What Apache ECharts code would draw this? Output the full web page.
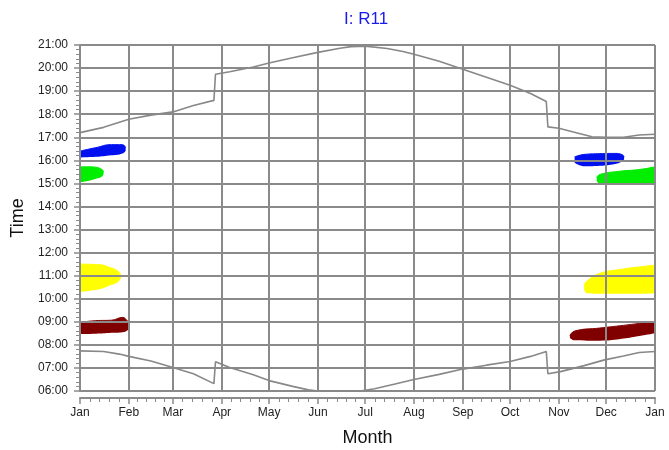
<!DOCTYPE html>
<html>
<head>
<meta charset="utf-8">
<script src="https://cdn.jsdelivr.net/npm/echarts@6/dist/echarts.min.js"></script>
<style>
html,body{margin:0;padding:0;background:#fff;}
#chart{width:669px;height:450px;}
</style>
</head>
<body>
<div id="chart"></div>
<script>
// ---- data (day of year, hour of day) ----
var monthLabels = ['Jan','Feb','Mar','Apr','May','Jun','Jul','Aug','Sep','Oct','Nov','Dec'];
var timeTicks = ['06:00','07:00','08:00','09:00','10:00','11:00','12:00','13:00','14:00','15:00','16:00','17:00','18:00','19:00','20:00','21:00'];

var sunsetDays  = [0,15,31,45,59,72,85,86,95,110,120,135,151,165,172,181,195,205,212,228,243,258,273,286,296,297,304,315,325,334,345,355,365];
var sunsetHours = [17.2,17.43,17.78,17.96,18.1,18.38,18.6,19.73,19.84,20.05,20.22,20.45,20.68,20.86,20.93,20.95,20.85,20.72,20.6,20.3,19.95,19.6,19.25,18.9,18.55,17.45,17.39,17.2,17.02,17.0,17.0,17.1,17.13];

var sunriseDays  = [0,15,25,31,45,59,72,85,86,95,110,120,135,145,151,178,187,200,212,228,243,258,273,286,296,297,305,320,333,345,355,365];
var sunriseHours = [7.74,7.71,7.6,7.5,7.3,7.02,6.75,6.32,7.27,7.02,6.7,6.45,6.2,6.05,6.0,6.0,6.1,6.3,6.5,6.72,6.95,7.12,7.28,7.5,7.71,6.75,6.84,7.1,7.35,7.52,7.67,7.71];

// blobs: day, low hour, high hour
var blueJanDays = [0,10,20,27,29];
var blueJanLow  = [16.12,16.15,16.22,16.3,16.42];
var blueJanHigh = [16.4,16.55,16.68,16.68,16.55];

var greenJanDays = [0,5,10,14,15];
var greenJanLow  = [15.05,15.1,15.2,15.3,15.42];
var greenJanHigh = [15.72,15.72,15.7,15.6,15.5];

var yellowJanDays = [0,13,19,24,26];
var yellowJanLow  = [10.3,10.42,10.58,10.72,10.9];
var yellowJanHigh = [11.5,11.47,11.35,11.2,11.0];

var redJanDays = [0,10,20,27,30,31];
var redJanLow  = [8.47,8.48,8.52,8.55,8.62,8.75];
var redJanHigh = [8.97,9.05,9.07,9.19,9.05,8.95];

var blueDecDays = [314,320.6,330,339.7,344,345.4];
var blueDecLow  = [15.9,15.74,15.76,15.84,15.95,16.05];
var blueDecHigh = [16.15,16.26,16.29,16.3,16.25,16.15];

var greenDecDays = [328,330,343,355,365];
var greenDecLow  = [15.1,15.0,15.0,15.02,15.02];
var greenDecHigh = [15.25,15.39,15.53,15.6,15.72];

var yellowDecDays = [320,322,330,343,355,365];
var yellowDecLow  = [10.4,10.24,10.22,10.22,10.22,10.24];
var yellowDecHigh = [10.6,10.78,11.1,11.27,11.38,11.45];

var redDecDays = [311,314,330,343,355,365];
var redDecLow  = [8.3,8.2,8.18,8.25,8.38,8.5];
var redDecHigh = [8.4,8.6,8.73,8.83,8.93,9.01];

// ---- build ----
var DAY = 86400000;
var T0 = Date.UTC(2023,0,1);
function t(d){ return T0 + d*DAY; }
function pts(days, vals){ return days.map(function(d,i){ return [t(d), vals[i]]; }); }

var GRID = '#8a8a8a';
var FONT = 'Liberation Sans, Arial, sans-serif';
var series = [];
function blob(name, days, low, high, color){
  series.push({
    type:'line', name:name+'_lo', stack:name, data:pts(days, low), smooth:true,
    symbol:'none', lineStyle:{opacity:0}, z:-1, silent:true
  });
  series.push({
    type:'line', name:name, stack:name, data:days.map(function(d,i){ return [t(d), high[i]-low[i]]; }),
    smooth:true, symbol:'none', lineStyle:{width:1,color:color}, areaStyle:{color:color,opacity:1}, z:-1, silent:true
  });
}
blob('blueJan', blueJanDays, blueJanLow, blueJanHigh, '#0010ee');
blob('greenJan', greenJanDays, greenJanLow, greenJanHigh, '#00ee00');
blob('yellowJan', yellowJanDays, yellowJanLow, yellowJanHigh, '#ffff00');
blob('redJan', redJanDays, redJanLow, redJanHigh, '#800000');
blob('blueDec', blueDecDays, blueDecLow, blueDecHigh, '#0010ee');
blob('greenDec', greenDecDays, greenDecLow, greenDecHigh, '#00ee00');
blob('yellowDec', yellowDecDays, yellowDecLow, yellowDecHigh, '#ffff00');
blob('redDec', redDecDays, redDecLow, redDecHigh, '#800000');

series.push({type:'line', name:'sunset', data:pts(sunsetDays, sunsetHours), symbol:'none',
  lineStyle:{color:'#888', width:1.6}, z:3});
series.push({type:'line', name:'sunrise', data:pts(sunriseDays, sunriseHours), symbol:'none',
  lineStyle:{color:'#888', width:1.6}, z:3});

var chart = echarts.init(document.getElementById('chart'), null, {renderer:'canvas'});
chart.setOption({
  useUTC: true,
  animation: false,
  backgroundColor: '#fff',
  title: {text:'I: R11', left:339, top:6, textStyle:{color:'#1a1aee', fontSize:17, fontWeight:'normal', fontFamily:FONT}},
  grid: {left:80, right:14, top:45, bottom:59, containLabel:false, outerBoundsMode:'none'},
  xAxis: {
    type:'time', min:T0, max:t(365), offset:7,
    minInterval:28*DAY, maxInterval:31*DAY,
    axisLine:{show:true, lineStyle:{color:GRID, width:2}},
    axisTick:{show:true, length:6, lineStyle:{color:GRID, width:1.5}},
    minorTick:{show:true, splitNumber:5, length:4, lineStyle:{color:GRID, width:1}},
    splitLine:{show:true, lineStyle:{color:GRID, width:2}},
    axisLabel:{formatter:function(v){ return monthLabels[new Date(v).getUTCMonth()]; },
      color:'#222', fontSize:12, margin:9, showMinLabel:true, showMaxLabel:true, hideOverlap:false,
      fontFamily:FONT},
    name:'Month', nameLocation:'middle', nameGap:31,
    nameTextStyle:{fontSize:18, color:'#111', fontFamily:FONT}
  },
  yAxis: {
    type:'value', min:6, max:21, interval:1,
    axisLine:{show:true, lineStyle:{color:GRID, width:2}},
    axisTick:{show:true, length:6, lineStyle:{color:GRID, width:1.5}},
    minorTick:{show:true, splitNumber:5, length:4, lineStyle:{color:GRID, width:1}},
    splitLine:{show:true, lineStyle:{color:GRID, width:2}},
    axisLabel:{formatter:function(v){ return timeTicks[Math.round(v)-6]; }, color:'#222', fontSize:12, margin:12,
      fontFamily:FONT},
    name:'Time', nameLocation:'middle', nameGap:52, nameRotate:90,
    nameTextStyle:{fontSize:18, color:'#111', fontFamily:FONT}
  },
  series: series
});
</script>
</body>
</html>
